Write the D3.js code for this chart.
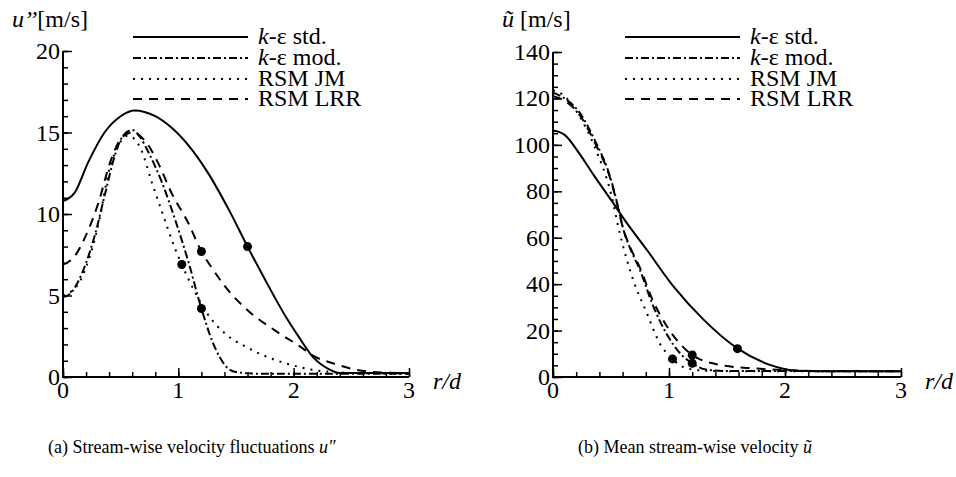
<!DOCTYPE html>
<html>
<head>
<meta charset="utf-8">
<script src="https://d3js.org/d3.v7.min.js"></script>
<style>
	body { margin: 0; background: #fff; }
</style>
</head>
<body>
<svg id="chart" width="956" height="477" font-family="'Liberation Serif', 'DejaVu Serif', serif"></svg>
<script>

var seriesNames = ["k-ε std.", "k-ε mod.", "RSM JM", "RSM LRR"];
var dashes = ["none", "8,3,2,3", "2,6", "9,7"];

// left panel: u'' [m/s]
var uppStd = [[0,10.8],[0.1,11.3],[0.22,13.2],[0.36,15.0],[0.5,16.0],[0.62,16.35],[0.8,16.0],[0.94,15.3],[1.1,14.1],[1.25,12.6],[1.45,10.1],[1.6,8.0],[1.75,6.0],[1.94,3.6],[2.05,2.4],[2.17,1.2],[2.3,0.5],[2.4,0.25],[3.0,0.25]];
var uppMod = [[0,4.9],[0.06,5.1],[0.12,5.7],[0.2,7.0],[0.28,8.8],[0.36,11.1],[0.45,13.6],[0.52,14.8],[0.6,15.15],[0.67,14.7],[0.74,13.8],[0.86,11.9],[0.97,9.7],[1.09,7.0],[1.2,4.2],[1.3,2.1],[1.42,0.6],[1.5,0.3],[1.7,0.2],[3.0,0.2]];
var uppJM = [[0,5.0],[0.08,5.3],[0.15,5.9],[0.2,6.75],[0.25,7.8],[0.32,9.8],[0.39,12.4],[0.48,14.2],[0.56,14.8],[0.62,14.6],[0.68,13.9],[0.77,11.95],[0.86,10.1],[0.97,7.9],[1.03,6.9],[1.13,5.4],[1.25,3.9],[1.4,2.7],[1.6,1.8],[1.8,1.15],[2.0,0.7],[2.2,0.4],[2.5,0.25],[3.0,0.2]];
var uppLRR = [[0,6.9],[0.1,7.4],[0.2,8.7],[0.31,10.75],[0.41,13.2],[0.51,14.7],[0.6,15.0],[0.71,14.5],[0.82,13.2],[0.94,11.3],[1.09,9.4],[1.2,7.7],[1.3,6.6],[1.4,5.6],[1.6,4.1],[1.85,2.8],[2.06,1.85],[2.17,1.3],[2.34,0.84],[2.63,0.35],[3.0,0.22]];
var uppDots = [[1.03,6.9],[1.2,7.7],[1.2,4.2],[1.6,8.0]];

// right panel: mean u [m/s]
var umStd = [[0,106.2],[0.05,105.6],[0.1,104.3],[0.22,96.8],[0.36,86.3],[0.5,76.3],[0.62,67.5],[0.81,54.7],[1.04,38.9],[1.3,24.6],[1.59,12.3],[1.87,5.2],[2.1,2.7],[2.3,2.5],[3.0,2.5]];
var umMod = [[0,122.5],[0.1,120],[0.22,114.5],[0.36,102],[0.5,85],[0.56,73.5],[0.61,63],[0.66,56],[0.75,46],[0.86,31],[0.98,18.5],[1.1,10],[1.2,5.9],[1.32,3.2],[1.5,2.6],[3.0,2.5]];
var umJM = [[0,123.5],[0.1,121],[0.22,113],[0.36,99],[0.5,79],[0.58,61],[0.69,42],[0.81,27.4],[0.92,14.5],[1.03,7.8],[1.15,3.8],[1.32,2.7],[1.6,2.5],[3.0,2.5]];
var umLRR = [[0,121],[0.1,119],[0.22,113.5],[0.36,101],[0.5,84.5],[0.56,73],[0.61,63],[0.66,56.5],[0.75,47],[0.86,33],[0.98,22],[1.1,14],[1.2,9.5],[1.44,5.2],[1.73,3.7],[2.0,3.0],[2.3,2.6],[3.0,2.5]];
var umDots = [[1.03,7.8],[1.2,9.5],[1.2,5.9],[1.59,12.2]];

var xTicks = [0, 1, 2, 3];
var uppTicks = [0, 5, 10, 15, 20];
var umTicks = [0, 20, 40, 60, 80, 100, 120, 140];

var svg = d3.select("#chart");

renderPanel({
	left: 63, right: 409, top: 51, bottom: 377,
	yMax: 20, yTicks: uppTicks, yMinorStep: 1,
	series: [uppStd, uppMod, uppJM, uppLRR], dots: uppDots,
	legendX: 133, yLabel: "upp"
});

renderPanel({
	left: 553, right: 901, top: 52, bottom: 377,
	yMax: 140, yTicks: umTicks, yMinorStep: 5,
	series: [umStd, umMod, umJM, umLRR], dots: umDots,
	legendX: 625, yLabel: "um"
});

caption(48, "(a) Stream-wise velocity fluctuations ", "u\u2033");
caption(578, "(b) Mean stream-wise velocity ", "\u0169");

function renderPanel(p) {

	var xScale = d3.scaleLinear().domain([0, 3]).range([p.left, p.right]);
	var yScale = d3.scaleLinear().domain([0, p.yMax]).range([p.bottom, p.top]);

	var g = svg.append("g");

	var line = d3.line()
		.curve(d3.curveMonotoneX)
		.x(function(d) { return xScale(d[0]); })
		.y(function(d) { return yScale(d[1]); });

	g.selectAll("path.series")
		.data(p.series)
		.enter()
		.append("path")
		.attr("class", "series")
		.attr("d", line)
		.attr("fill", "none")
		.attr("stroke", "#000")
		.attr("stroke-width", 2)
		.attr("stroke-dasharray", function(d, i) { return dashes[i]; });

	g.selectAll("circle")
		.data(p.dots)
		.enter()
		.append("circle")
		.attr("cx", function(d) { return xScale(d[0]); })
		.attr("cy", function(d) { return yScale(d[1]); })
		.attr("r", 4.5)
		.attr("fill", "#000");

	// inward ticks, minor ones shorter
	var xMinor = d3.range(0, 3.0001, 0.2);
	var yMinor = d3.range(0, p.yMax + 0.0001, p.yMinorStep);

	var xAxis = d3.axisTop(xScale).tickValues(xMinor).tickSize(5).tickFormat("");
	var yAxis = d3.axisRight(yScale).tickValues(yMinor).tickSize(5).tickFormat("");

	g.append("g").attr("transform", "translate(0," + p.bottom + ")").call(xAxis);
	g.append("g").attr("transform", "translate(" + p.left + ",0)").call(yAxis);

	g.append("g").attr("transform", "translate(0," + p.bottom + ")")
		.call(d3.axisTop(xScale).tickValues(xTicks).tickSize(9).tickFormat(""));
	g.append("g").attr("transform", "translate(" + p.left + ",0)")
		.call(d3.axisRight(yScale).tickValues(p.yTicks).tickSize(9).tickFormat(""));

	g.selectAll(".domain").remove();
	g.selectAll(".tick line").attr("stroke", "#000").attr("stroke-width", 1.5);

	g.append("line")
		.attr("x1", p.left).attr("x2", p.left)
		.attr("y1", p.top).attr("y2", p.bottom + 1)
		.attr("stroke", "#000").attr("stroke-width", 2);
	g.append("line")
		.attr("x1", p.left - 1).attr("x2", p.right)
		.attr("y1", p.bottom).attr("y2", p.bottom)
		.attr("stroke", "#000").attr("stroke-width", 2);

	g.selectAll("text.xt")
		.data(xTicks)
		.enter()
		.append("text")
		.attr("class", "xt")
		.attr("x", function(d) { return xScale(d); })
		.attr("y", p.bottom + 21)
		.attr("text-anchor", "middle")
		.attr("font-size", 24)
		.text(function(d) { return d; });

	g.selectAll("text.yt")
		.data(p.yTicks)
		.enter()
		.append("text")
		.attr("class", "yt")
		.attr("x", p.left - 3)
		.attr("y", function(d) { return yScale(d) + 8; })
		.attr("text-anchor", "end")
		.attr("font-size", 24)
		.text(function(d) { return d; });

	g.append("text")
		.attr("x", p.right + 24)
		.attr("y", p.bottom + 12)
		.attr("font-size", 24)
		.attr("font-style", "italic")
		.text("r/d");

	var yl = g.append("text")
		.attr("x", p.left - 51)
		.attr("y", 27)
		.attr("font-size", 24);

	if (p.yLabel == "upp") {
		yl.append("tspan").attr("font-style", "italic").text("u\u2019\u2019");
		yl.append("tspan").text("[m/s]");
	} else {
		yl.append("tspan").attr("font-style", "italic").text("\u0169");
		yl.append("tspan").text(" [m/s]");
	}

	legend(g, p.legendX);

}

function legend(g, x0) {

	var rowsY = [37, 58, 79, 99];

	var rows = g.selectAll("g.legend")
		.data(seriesNames)
		.enter()
		.append("g")
		.attr("class", "legend")
		.attr("transform", function(d, i) { return "translate(" + x0 + "," + rowsY[i] + ")"; });

	rows.append("line")
		.attr("x1", 0).attr("x2", 115)
		.attr("stroke", "#000")
		.attr("stroke-width", 2)
		.attr("stroke-dasharray", function(d, i) { return dashes[i]; });

	rows.each(function(name, i) {

		var t = d3.select(this).append("text")
			.attr("x", 125)
			.attr("y", 7)
			.attr("font-size", 24);

		if (name.indexOf("k-") == 0) {
			t.append("tspan").attr("font-style", "italic").text("k");
			t.append("tspan").text(name.substring(1));
		} else {
			t.text(name);
		}

	});

}

function caption(x, label, symbol) {

	var t = svg.append("text")
		.attr("x", x)
		.attr("y", 453)
		.attr("font-size", 18);

	t.append("tspan").text(label);
	t.append("tspan").attr("font-style", "italic").text(symbol);

}

</script>
</body>
</html>
